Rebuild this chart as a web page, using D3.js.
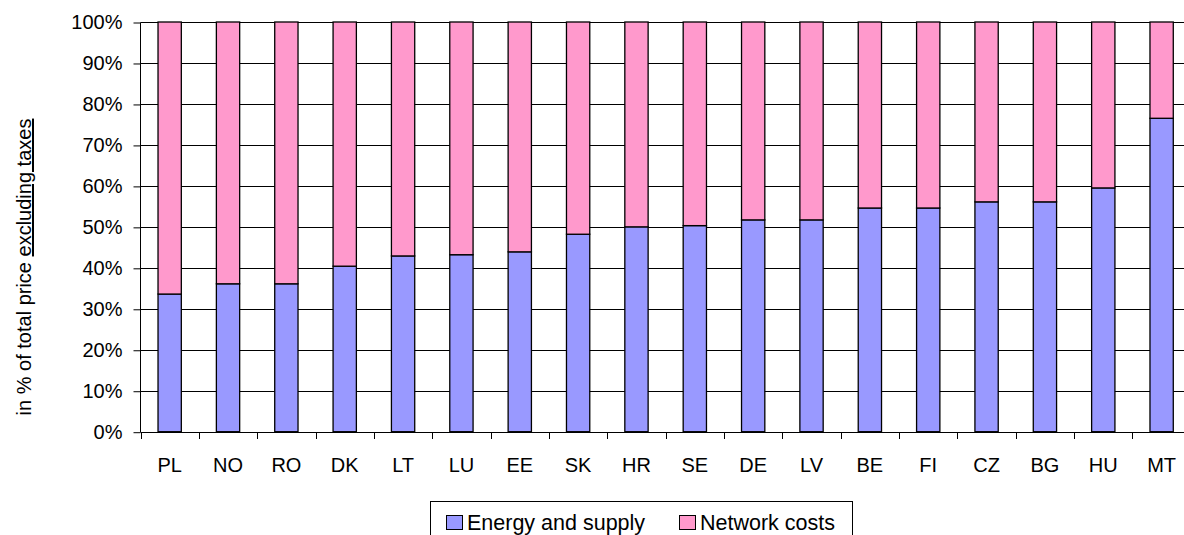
<!DOCTYPE html>
<html><head><meta charset="utf-8">
<script src="https://cdn.jsdelivr.net/npm/d3@7"></script>
<style>
body{margin:0;background:#fff;}
svg{display:block;font-family:"Liberation Sans",Arial,sans-serif;}
</style></head>
<body><svg id="c" width="1184" height="535"></svg>
<script>
const categories = ["PL","NO","RO","DK","LT","LU","EE","SK","HR","SE","DE","LV","BE","FI","CZ","BG","HU","MT"];
const energySupply = [33.6,36.1,36.1,40.4,42.9,43.2,43.9,48.2,50.0,50.3,51.7,51.7,54.6,54.6,56.1,56.1,59.5,76.5];
const networkCosts = energySupply.map(v => +(100 - v).toFixed(1));
const yTicks = [0,10,20,30,40,50,60,70,80,90,100];
const seriesNames = ["Energy and supply","Network costs"];
const colors = ["#9999FF","#FF99CC"];

const svg = d3.select("#c");
const x0 = 140.5, yBottom = 431.7, yTop = 22;
const x = d3.scaleBand().domain(categories).range([x0, x0 + 18*58.35]).paddingInner(0).paddingOuter(0);
const y = d3.scaleLinear().domain([0,100]).range([yBottom, yTop]);

// gridlines
svg.append("g").selectAll("line").data(yTicks).join("line")
  .attr("x1", x0).attr("x2", 1184)
  .attr("y1", d => Math.round(y(d))+0.5).attr("y2", d => Math.round(y(d))+0.5)
  .attr("stroke", "#000").attr("stroke-width", 1);

// y axis
const yAxis = d3.axisLeft(y).tickValues(yTicks).tickFormat(d => d + "%").tickSize(7).tickPadding(11);
const gy = svg.append("g").attr("transform", `translate(${x0},0.5)`).call(yAxis);
gy.select(".domain").attr("stroke","#000").attr("d", `M0,${yTop}V${yBottom}`);
gy.selectAll(".tick line").attr("stroke","#000");
gy.selectAll("text").attr("font-size", 20).attr("fill","#000").attr("font-family","Liberation Sans, Arial, sans-serif");

// x axis
const xAxis = d3.axisBottom(x).tickSize(0).tickPadding(0);
const gx = svg.append("g").attr("transform", `translate(0,${Math.round(yBottom)+0.5})`).call(xAxis);
gx.select(".domain").remove();
gx.selectAll(".tick text").attr("font-size", 20).attr("fill","#000").attr("dy", null).attr("y", 39)
  .attr("font-family","Liberation Sans, Arial, sans-serif");
// category separator ticks
svg.append("g").selectAll("line").data(categories).join("line")
  .attr("x1", d => Math.round(x(d))+0.5).attr("x2", d => Math.round(x(d))+0.5)
  .attr("y1", Math.round(yBottom)).attr("y2", Math.round(yBottom)+7)
  .attr("stroke","#000");

// bars
const bw = 23.3;
const stackData = categories.map((c,i) => ({c, e: energySupply[i], n: networkCosts[i]}));
const stack = d3.stack().keys(["e","n"])(stackData);
svg.append("g").selectAll("g").data(stack).join("g")
  .attr("fill", (d,i) => colors[i])
  .selectAll("rect").data(d => d).join("rect")
  .attr("x", d => x(d.data.c) + x.bandwidth()/2 - bw/2)
  .attr("width", bw)
  .attr("y", d => y(d[1]))
  .attr("height", d => y(d[0]) - y(d[1]))
  .attr("stroke", "#000").attr("stroke-width", 1.3);

// y title
const t = svg.append("text")
  .attr("transform", "translate(31,267) rotate(-90)")
  .attr("text-anchor","middle").attr("font-size", 20).attr("fill","#000");
t.append("tspan").text("in % of total price ");
t.append("tspan").attr("text-decoration","underline").text("excluding taxes");

// legend
const lg = svg.append("g");
lg.append("rect").attr("x", 430.5).attr("y", 501.5).attr("width", 422).attr("height", 40)
  .attr("fill","#fff").attr("stroke","#000");
const items = [{x:446, tx:467},{x:679, tx:700}];
seriesNames.forEach((n,i) => {
  lg.append("rect").attr("x", items[i].x+0.5).attr("y", 515.5).attr("width", 16).attr("height", 14)
    .attr("fill", colors[i]).attr("stroke","#000");
  lg.append("text").attr("x", items[i].tx).attr("y", 530).attr("font-size", 21.5).attr("fill","#000").text(n);
});
</script></body></html>
